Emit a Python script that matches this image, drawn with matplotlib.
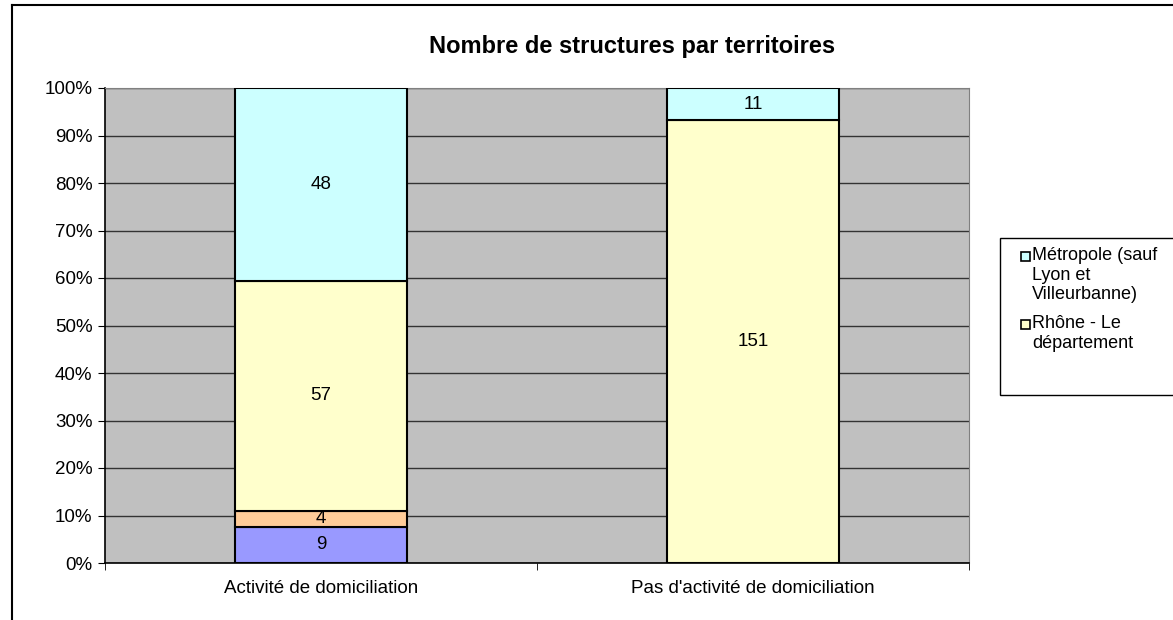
import numpy as np
import matplotlib
matplotlib.use('Agg')
import matplotlib.pyplot as plt
from matplotlib.lines import Line2D
from matplotlib.patches import Rectangle

plt.rcParams['font.family'] = ['Liberation Sans', 'DejaVu Sans']

# data
categories = ['Activité de domiciliation', "Pas d'activité de domiciliation"]
series_names = ['Autre', 'Autre 2', 'Rhône - Le\ndépartement',
                'Métropole (sauf\nLyon et\nVilleurbanne)']
counts = [
    [9, 0],     # blue
    [4, 0],     # orange
    [57, 151],  # yellow
    [48, 11],   # cyan
]
colors = ['#9999FF', '#FFCC99', '#FFFFCC', '#CCFFFF']
legend_idx = [3, 2]

counts = np.array(counts, dtype=float)
totals = counts.sum(axis=0)
pct = counts / totals * 100

W, H = 1173, 620
fig = plt.figure(figsize=(W / 100, H / 100), dpi=100)
ax = fig.add_axes([105/W, 1-563/H, (969-105)/W, (563-88)/H])
ax.set_facecolor('#C0C0C0')

x = np.arange(len(categories))
bottom = np.zeros(len(categories))
for i in range(len(counts)):
    ax.bar(x, pct[i], 0.4, bottom=bottom, color=colors[i],
           edgecolor='black', linewidth=1.5, zorder=3)
    for j in range(len(categories)):
        if counts[i, j] > 0:
            ax.text(x[j], bottom[j] + pct[i, j] / 2, f'{int(counts[i, j])}',
                    ha='center', va='center', fontsize=13.5, zorder=4)
    bottom += pct[i]

ax.set_xlim(-0.5, 1.5)
ax.set_ylim(0, 100)
ax.set_yticks(np.arange(0, 101, 10))
ax.set_yticklabels([f'{v}%' for v in range(0, 101, 10)], fontsize=13.5)
ax.yaxis.grid(True, color='#333333', linewidth=1, zorder=1)
ax.set_axisbelow(True)
ax.set_xticks(x)
ax.set_xticklabels(categories, fontsize=13.5)
ax.tick_params(axis='x', length=0, pad=12)
ax.set_xticks([-0.5, 0.5, 1.5], minor=True)
ax.tick_params(axis='x', which='minor', length=5, color='black')
ax.tick_params(axis='y', length=5, color='black', pad=4)
for s in ['top', 'right']:
    ax.spines[s].set_color('#808080')
for s in ['left', 'bottom']:
    ax.spines[s].set_color('black')
    ax.spines[s].set_linewidth(1.2)

fig.text(0.5 * (105 + 1160) / W, 1 - 47/H, 'Nombre de structures par territoires',
         ha='center', va='center', fontsize=17, fontweight='bold')

# legend drawn by hand (box runs off the right edge)
fig.add_artist(Rectangle((1000/W, 1 - 395/H), (W + 10 - 1000)/W, (395 - 238)/H,
                         transform=fig.transFigure, facecolor='white',
                         edgecolor='black', linewidth=1))
y_top = 247
for k, i in enumerate(legend_idx):
    fig.add_artist(Rectangle((1021/W, 1 - (y_top + 14)/H), 9/W, 9/H,
                             transform=fig.transFigure, facecolor=colors[i],
                             edgecolor='black', linewidth=1.2))
    fig.text(1032/W, 1 - y_top/H, series_names[i], ha='left', va='top',
             fontsize=13, linespacing=1.2)
    y_top += 19 * series_names[i].count('\n') + 19 + 11

# outer border (top and left visible)
fig.add_artist(Line2D([12/W, 1], [1 - 5/H, 1 - 5/H], color='black',
                      linewidth=1.5, transform=fig.transFigure))
fig.add_artist(Line2D([12/W, 12/W], [0, 1 - 5/H], color='black',
                      linewidth=1.5, transform=fig.transFigure))

fig.savefig('out.png', dpi=100)
